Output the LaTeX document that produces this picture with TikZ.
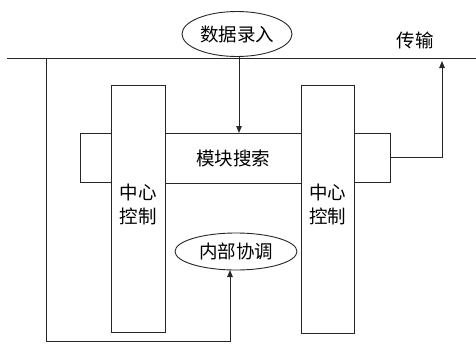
\documentclass[tikz,border=0pt]{standalone}
\usepackage{fontspec}
\setmainfont{Noto Sans CJK SC}
\usetikzlibrary{shapes.geometric,arrows.meta,calc}
\begin{document}
\begin{tikzpicture}[x=1pt,y=-1pt,
  every node/.style={inner sep=0pt,outer sep=0pt,font=\fontsize{18.5}{24}\selectfont},
  ln/.style={draw=black!85,line width=0.9pt},
  box/.style={ln,rectangle},
  ell/.style={ln,ellipse},
  arr/.style={ln,-{Triangle[length=7pt,width=5.5pt]}}]
\useasboundingbox (0,0) rectangle (476,345);
% top line
\coordinate (lineL) at (7,58);
\coordinate (lineR) at (476,58);
\draw[ln] (lineL) -- (lineR);
\node at (415,40) (trans) {传输};
% boxes
\node[box,minimum width=54pt,minimum height=247pt] at (138,208.5) (lc) {};
\node[box,minimum width=53pt,minimum height=248pt] at (327.5,209) (rc) {};
\node[box,minimum width=136pt,minimum height=50pt] at (233,158) (search) {模块搜索};
\node[box,minimum width=31pt,minimum height=49pt] at (95.5,157.5) (ls) {};
\node[box,minimum width=36pt,minimum height=49pt] at (372,157.5) (rs) {};
\node[align=center] at (138,204) (lct) {中心\\控制};
\node[align=center] at (327.5,204) (rct) {中心\\控制};
% ellipses
\node[ell,minimum width=110pt,minimum height=45pt] at (237,34) (input) {数据录入};
\node[ell,minimum width=122pt,minimum height=37pt] at (236,251.5) (coord) {内部协调};
% connectors
\draw[arr] ([xshift=2pt]input.south) -- ([xshift=2pt]input.south |- search.north);
\coordinate (loopTop) at (46,58);
\coordinate (loopBot) at (46,341);
\draw[arr] (loopTop) -- (loopBot) -| ([xshift=-6pt]coord.south);
\coordinate (tipT) at (442,61);
\draw[arr] (rs.east) -| (tipT);
\end{tikzpicture}
\end{document}
